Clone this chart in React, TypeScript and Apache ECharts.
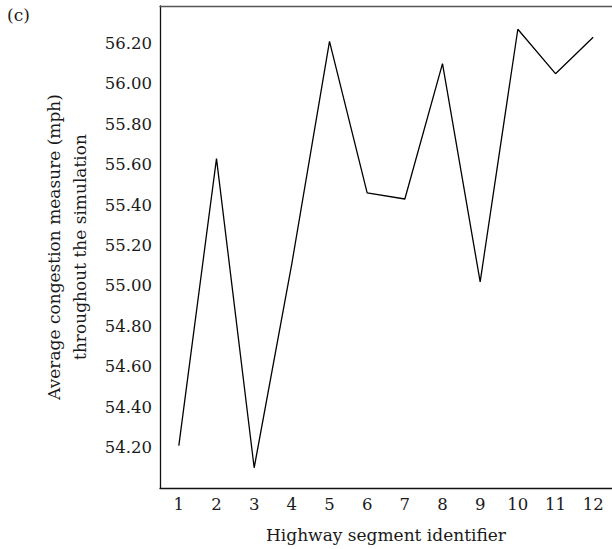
import React, { useEffect, useRef } from "react";
import * as echarts from "echarts";

const segments = ["1", "2", "3", "4", "5", "6", "7", "8", "9", "10", "11", "12"];
const congestion = [54.21, 55.63, 54.1, 55.11, 56.21, 55.46, 55.43, 56.1, 55.02, 56.27, 56.05, 56.23];
const yTickLabels = ["54.20", "54.40", "54.60", "54.80", "55.00", "55.20", "55.40", "55.60", "55.80", "56.00", "56.20"];
const xTitle = "Highway segment identifier";
const yTitle = "Average congestion measure (mph)\nthroughout the simulation";
const panelLabel = "(c)";

const FONT = "DejaVu Serif";

export default function App() {
  const ref = useRef<HTMLDivElement>(null);
  useEffect(() => {
    if (!ref.current) return;
    const chart = echarts.init(ref.current, null, { renderer: "svg" });
    chart.setOption({
      animation: false,
      backgroundColor: "#ffffff",
      grid: { left: 160, right: -4, top: 6, bottom: 61, containLabel: false },
      graphic: [
        {
          type: "text",
          left: 7,
          top: 6,
          style: { text: panelLabel, font: `17px "${FONT}"`, fill: "#1a1a1a" },
        },
      ],
      xAxis: [
        {
          type: "category",
          data: segments,
          boundaryGap: true,
          axisLine: { show: true, lineStyle: { color: "#111", width: 1.3 } },
          axisTick: { show: false },
          axisLabel: { color: "#1a1a1a", fontFamily: FONT, fontSize: 16.5, margin: 8 },
          name: xTitle,
          nameLocation: "middle",
          nameGap: 38,
          nameTextStyle: { color: "#1a1a1a", fontFamily: FONT, fontSize: 17 },
          splitLine: { show: false },
        },
        {
          type: "category",
          data: segments,
          position: "top",
          boundaryGap: true,
          axisLine: { show: true, lineStyle: { color: "#555", width: 1.3 } },
          axisTick: { show: false },
          axisLabel: { show: false },
          splitLine: { show: false },
        },
      ],
      yAxis: {
        type: "value",
        min: 54.0,
        max: 56.385,
        interval: 0.2,
        axisLine: { show: true, lineStyle: { color: "#111", width: 1.3 } },
        axisTick: { show: false },
        splitLine: { show: false },
        axisLabel: {
          color: "#1a1a1a",
          fontFamily: FONT,
          fontSize: 16.5,
          margin: 8,
          formatter: (v: number) => {
            const s = v.toFixed(2);
            return yTickLabels.includes(s) && Math.abs(v - Math.round(v * 5) / 5) < 1e-6 ? s : "";
          },
        },
        name: yTitle,
        nameLocation: "middle",
        nameRotate: 90,
        nameGap: 67,
        nameTextStyle: { color: "#1a1a1a", fontFamily: FONT, fontSize: 17, lineHeight: 26 },
      },
      series: [
        {
          type: "line",
          data: congestion,
          showSymbol: false,
          symbol: "none",
          lineStyle: { color: "#000", width: 1.3 },
        },
      ],
    });
    return () => chart.dispose();
  }, []);
  return (
    <div
      ref={ref}
      style={{ position: "fixed", left: 0, top: 0, width: 612, height: 549, background: "#fff" }}
    />
  );
}
